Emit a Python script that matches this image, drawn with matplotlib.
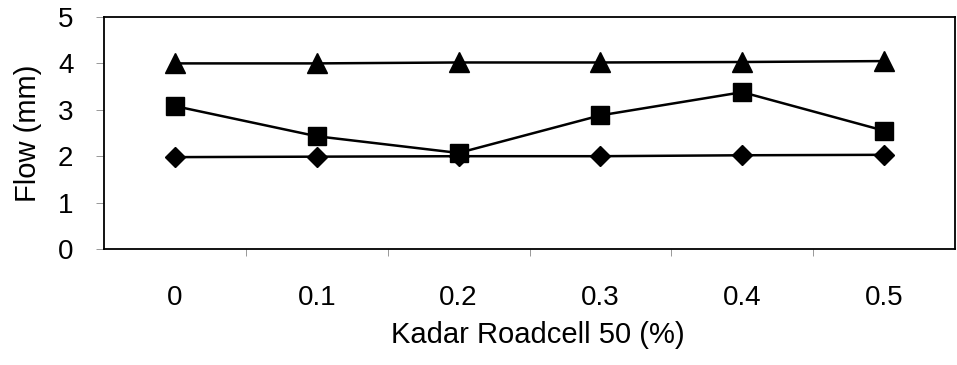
import matplotlib
matplotlib.use("Agg")
import matplotlib.pyplot as plt

# Roadcell 50 content (%) and measured Marshall flow (mm)
kadar_labels = ["0", "0.1", "0.2", "0.3", "0.4", "0.5"]
flow_diamond = [1.98, 1.99, 2.00, 2.00, 2.02, 2.03]
flow_square = [3.08, 2.43, 2.07, 2.88, 3.38, 2.55]
flow_triangle = [4.00, 4.00, 4.02, 4.02, 4.03, 4.05]

plt.rcParams["font.family"] = ["Liberation Sans", "DejaVu Sans"]

fig = plt.figure(figsize=(9.57, 3.65), dpi=100)
ax = fig.add_axes([104 / 957, 1 - 249 / 365, (955 - 104) / 957, (249 - 17) / 365])

x = list(range(len(kadar_labels)))
ax.plot(x, flow_diamond, color="black", lw=1.8, marker="D", ms=10, mfc="black", mec="black")
ax.plot(x, flow_square, color="black", lw=1.8, marker="s", ms=13, mfc="black", mec="black")
ax.plot(x, flow_triangle, color="black", lw=1.8, marker="^", ms=14.5, mfc="black", mec="black")

ax.set_xlim(-0.5, len(kadar_labels) - 0.5)
ax.set_ylim(0, 5)
ax.set_yticks([0, 1, 2, 3, 4, 5])

# category labels centred, ticks on the category boundaries
ax.set_xticks(x)
ax.set_xticklabels(kadar_labels)
ax.tick_params(axis="x", which="major", length=0, pad=26, labelsize=20)
ax.set_xticks([i + 0.5 for i in x[:-1]], minor=True)
ax.tick_params(axis="x", which="minor", length=5, width=0.6, color="#888888", direction="out")
ax.tick_params(axis="y", length=6, width=0.6, color="#888888", direction="out", pad=16, labelsize=20)

for s in ax.spines.values():
    s.set_linewidth(1.3)
    s.set_color("black")

ax.set_xlabel("Kadar Roadcell 50 (%)", fontsize=21)
ax.xaxis.set_label_coords(0.51, -0.31)
ax.set_ylabel("Flow (mm)", fontsize=21)
ax.yaxis.set_label_coords(-0.073, 0.5)

fig.savefig("out.png", dpi=100)
